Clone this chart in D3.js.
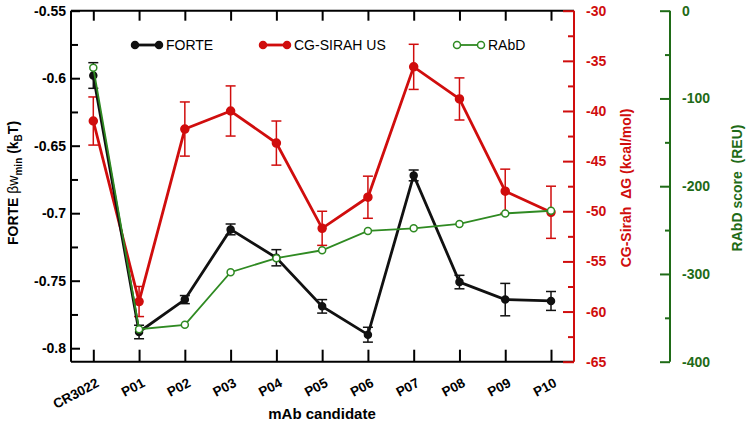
<!DOCTYPE html>
<html>
<head>
<meta charset="utf-8">
<script src="https://cdn.jsdelivr.net/npm/d3@7"></script>
<style>
  body { margin: 0; background: #fff; }
  text { font-family: "Liberation Sans", Arial, sans-serif; }
</style>
</head>
<body>
<div id="vis"></div>
<script>
// data
const CATEGORIES = ["CR3022", "P01", "P02", "P03", "P04", "P05", "P06", "P07", "P08", "P09", "P10"];
const FORTE = [-0.598, -0.788, -0.764, -0.712, -0.733, -0.769, -0.790, -0.672, -0.751, -0.764, -0.765];
const FORTE_ERR = [0.0095, 0.005, 0.003, 0.004, 0.006, 0.005, 0.0055, 0.004, 0.005, 0.012, 0.007];
const SIRAH = [-41.0, -59.0, -41.8, -40.0, -43.2, -51.7, -48.6, -35.6, -38.8, -48.0, -50.1];
const SIRAH_ERR = [2.4, 1.5, 2.7, 2.5, 2.2, 1.7, 2.1, 2.25, 2.1, 2.2, 2.6];
const RABD = [-65, -363, -358, -298, -282, -273, -251, -248, -243, -231, -228];

const LEFT_TICKS = [-0.55, -0.6, -0.65, -0.7, -0.75, -0.8];
const RED_TICKS = [-30, -35, -40, -45, -50, -55, -60, -65];
const GREEN_TICKS = [0, -100, -200, -300, -400];

// frame and plot box
const FRAME_WIDTH = 748;
const FRAME_HEIGHT = 424;
const PLOT = {left: 71, right: 574, top: 10.7, bottom: 361.7};
const GREEN_AXIS_X = 670;

const RED = "#d00d0d";
const GREEN = "#2f8a22";
const DARK_GREEN = "#1f6b17";

const svg = d3.select("#vis")
    .append("svg")
        .attr("width", FRAME_WIDTH)
        .attr("height", FRAME_HEIGHT);

// scales
const X = d3.scalePoint()
    .domain(CATEGORIES)
    .range([93.3, 551]);

const Y_LEFT = d3.scaleLinear().domain([-0.81, -0.55]).range([PLOT.bottom, PLOT.top]);
const Y_RED = d3.scaleLinear().domain([-65, -30]).range([PLOT.bottom, PLOT.top]);
const Y_GREEN = d3.scaleLinear().domain([-400, 0]).range([PLOT.bottom, PLOT.top]);

// plain hyphen minus like the original figure
const fmt = d => String(+d.toFixed(2));

// top frame line
svg.append("line")
    .attr("x1", PLOT.left).attr("x2", PLOT.right)
    .attr("y1", PLOT.top).attr("y2", PLOT.top)
    .attr("stroke", "#000").attr("stroke-width", 2);

// left axis: minor ticks, then major ticks with labels
const leftAxis = svg.append("g")
    .attr("transform", "translate(" + PLOT.left + ",0)");
leftAxis.call(d3.axisRight(Y_LEFT)
        .tickValues([-0.575, -0.625, -0.675, -0.725, -0.775])
        .tickSize(7).tickFormat(""))
    .call(g => g.select(".domain").remove());
leftAxis.append("g")
    .call(d3.axisLeft(Y_LEFT).tickValues(LEFT_TICKS).tickSize(0).tickPadding(5).tickFormat(fmt))
    .call(g => g.select(".domain").remove())
    .selectAll("text")
        .attr("font-size", "14px").attr("font-weight", "bold")
        .attr("font-family", "Liberation Sans, Arial, sans-serif");
leftAxis.append("g")
    .call(d3.axisRight(Y_LEFT).tickValues(LEFT_TICKS).tickSize(9).tickFormat(""))
    .call(g => g.select(".domain").remove());
leftAxis.selectAll(".tick line").attr("stroke", "#000").attr("stroke-width", 2);
leftAxis.append("line")
    .attr("y1", PLOT.top).attr("y2", PLOT.bottom)
    .attr("stroke", "#000").attr("stroke-width", 2);

// bottom axis with category ticks pointing up
const bottomAxis = svg.append("g")
    .attr("transform", "translate(0," + PLOT.bottom + ")")
    .call(d3.axisTop(X).tickSize(12).tickFormat(""))
    .call(g => g.select(".domain").remove());
bottomAxis.selectAll(".tick line").attr("stroke", "#000").attr("stroke-width", 2);
bottomAxis.append("line")
    .attr("x1", PLOT.left).attr("x2", PLOT.right)
    .attr("stroke", "#000").attr("stroke-width", 2);

// top axis ticks pointing down
svg.append("g")
    .attr("transform", "translate(0," + PLOT.top + ")")
    .call(d3.axisBottom(X).tickSize(10).tickFormat(""))
    .call(g => g.select(".domain").remove())
    .selectAll(".tick line").attr("stroke", "#000").attr("stroke-width", 2);

// rotated category labels
svg.selectAll(".xlabel")
    .data(CATEGORIES)
    .enter()
    .append("text")
        .attr("class", "xlabel")
        .attr("transform", d => "translate(" + (X(d) + 2) + ",377) rotate(-28)")
        .attr("y", 10)
        .attr("text-anchor", "end")
        .attr("font-size", "13.5px")
        .attr("font-weight", "bold")
        .text(d => d);

svg.append("text")
    .attr("x", 322).attr("y", 419)
    .attr("text-anchor", "middle")
    .attr("font-size", "15px").attr("font-weight", "bold")
    .text("mAb candidate");

// red right axis
const redAxis = svg.append("g")
    .attr("transform", "translate(" + PLOT.right + ",0)");
redAxis.append("g")
    .call(d3.axisLeft(Y_RED).tickValues(d3.range(-32.5, -65, -5)).tickSize(6).tickFormat(""))
    .call(g => g.select(".domain").remove());
redAxis.append("g")
    .call(d3.axisLeft(Y_RED).tickValues(RED_TICKS).tickSize(11).tickFormat(""))
    .call(g => g.select(".domain").remove());
redAxis.append("g")
    .call(d3.axisRight(Y_RED).tickValues(RED_TICKS).tickSize(0).tickPadding(12).tickFormat(fmt))
    .call(g => g.select(".domain").remove())
    .selectAll("text")
        .attr("fill", RED).attr("font-size", "14px").attr("font-weight", "bold")
        .attr("font-family", "Liberation Sans, Arial, sans-serif");
redAxis.selectAll(".tick line").attr("stroke", RED).attr("stroke-width", 2);
redAxis.append("line")
    .attr("y1", PLOT.top).attr("y2", PLOT.bottom)
    .attr("stroke", RED).attr("stroke-width", 2);

// green right axis
const greenAxis = svg.append("g")
    .attr("transform", "translate(" + GREEN_AXIS_X + ",0)");
greenAxis.append("g")
    .call(d3.axisLeft(Y_GREEN).tickValues([-50, -150, -250, -350]).tickSize(5).tickFormat(""))
    .call(g => g.select(".domain").remove());
greenAxis.append("g")
    .call(d3.axisLeft(Y_GREEN).tickValues(GREEN_TICKS).tickSize(10).tickFormat(""))
    .call(g => g.select(".domain").remove());
greenAxis.append("g")
    .call(d3.axisRight(Y_GREEN).tickValues(GREEN_TICKS).tickSize(0).tickPadding(12).tickFormat(fmt))
    .call(g => g.select(".domain").remove())
    .selectAll("text")
        .attr("fill", DARK_GREEN).attr("font-size", "14px").attr("font-weight", "bold")
        .attr("font-family", "Liberation Sans, Arial, sans-serif");
greenAxis.selectAll(".tick line").attr("stroke", DARK_GREEN).attr("stroke-width", 2);
greenAxis.append("line")
    .attr("y1", PLOT.top).attr("y2", PLOT.bottom)
    .attr("stroke", DARK_GREEN).attr("stroke-width", 2);

// axis titles
const leftTitle = svg.append("text")
    .attr("transform", "translate(18,183) rotate(-90)")
    .attr("text-anchor", "middle")
    .attr("font-size", "14px").attr("font-weight", "bold");
leftTitle.append("tspan").text("FORTE ");
leftTitle.append("tspan").attr("font-weight", "normal").text("\u03B2w");
leftTitle.append("tspan").attr("font-size", "10px").attr("dy", 4).text("min");
leftTitle.append("tspan").attr("dy", -4).text(" (k");
leftTitle.append("tspan").attr("font-size", "10px").attr("dy", 4).text("B");
leftTitle.append("tspan").attr("dy", -4).text("T)");

svg.append("text")
    .attr("transform", "translate(631,188) rotate(-90)")
    .attr("text-anchor", "middle")
    .attr("fill", RED)
    .attr("font-size", "14px").attr("font-weight", "bold")
    .attr("xml:space", "preserve")
    .text("CG-Sirah  \u0394G (kcal/mol)");

svg.append("text")
    .attr("transform", "translate(742,188) rotate(-90)")
    .attr("text-anchor", "middle")
    .attr("fill", DARK_GREEN)
    .attr("font-size", "14px").attr("font-weight", "bold")
    .attr("xml:space", "preserve")
    .text("RAbD score  (REU)");

// series helpers
function drawErrors(values, errs, yScale, color, width) {
    const g = svg.append("g").attr("stroke", color).attr("stroke-width", width);
    CATEGORIES.forEach((c, i) => {
        const x = X(c);
        const y0 = yScale(values[i] - errs[i]);
        const y1 = yScale(values[i] + errs[i]);
        g.append("line").attr("x1", x).attr("x2", x).attr("y1", y0).attr("y2", y1);
        g.append("line").attr("x1", x - 5).attr("x2", x + 5).attr("y1", y0).attr("y2", y0);
        g.append("line").attr("x1", x - 5).attr("x2", x + 5).attr("y1", y1).attr("y2", y1);
    });
}

function drawLine(values, yScale, color, width) {
    svg.append("path")
        .datum(values)
        .attr("fill", "none")
        .attr("stroke", color)
        .attr("stroke-width", width)
        .attr("d", d3.line()
            .x((d, i) => X(CATEGORIES[i]))
            .y(d => yScale(d)));
}

function drawPoints(values, yScale, r, fill, stroke) {
    svg.selectAll(null)
        .data(values)
        .enter()
        .append("circle")
            .attr("cx", (d, i) => X(CATEGORIES[i]))
            .attr("cy", d => yScale(d))
            .attr("r", r)
            .attr("fill", fill)
            .attr("stroke", stroke)
            .attr("stroke-width", 1.5);
}

// red CG-SIRAH series
drawErrors(SIRAH, SIRAH_ERR, Y_RED, RED, 1.5);
drawLine(SIRAH, Y_RED, RED, 2.8);
drawPoints(SIRAH, Y_RED, 4, RED, RED);

// black FORTE series
drawErrors(FORTE, FORTE_ERR, Y_LEFT, "#111", 1.5);
drawLine(FORTE, Y_LEFT, "#111", 2.8);
drawPoints(FORTE, Y_LEFT, 3.5, "#111", "#111");

// green RAbD series
drawLine(RABD, Y_GREEN, GREEN, 1.8);
drawPoints(RABD, Y_GREEN, 3.5, "#fff", GREEN);

// legend
const LEGEND = [
    {label: "FORTE", x: 135, color: "#111", fill: "#111", width: 2.8},
    {label: "CG-SIRAH US", x: 263, color: RED, fill: RED, width: 2.8},
    {label: "RAbD", x: 457, color: GREEN, fill: "#fff", width: 1.8}
];
const legend = svg.selectAll(".legend")
    .data(LEGEND)
    .enter()
    .append("g")
        .attr("transform", d => "translate(" + d.x + ",45)");
legend.append("line")
    .attr("x1", 0).attr("x2", 24)
    .attr("stroke", d => d.color).attr("stroke-width", d => d.width);
legend.selectAll("circle")
    .data(d => [d, d])
    .enter()
    .append("circle")
        .attr("cx", (d, i) => i * 24)
        .attr("r", 3.5)
        .attr("fill", d => d.fill)
        .attr("stroke", d => d.color)
        .attr("stroke-width", 1.5);
legend.append("text")
    .attr("x", 31).attr("dy", "0.36em")
    .attr("font-size", "14px")
    .text(d => d.label);
</script>
</body>
</html>
